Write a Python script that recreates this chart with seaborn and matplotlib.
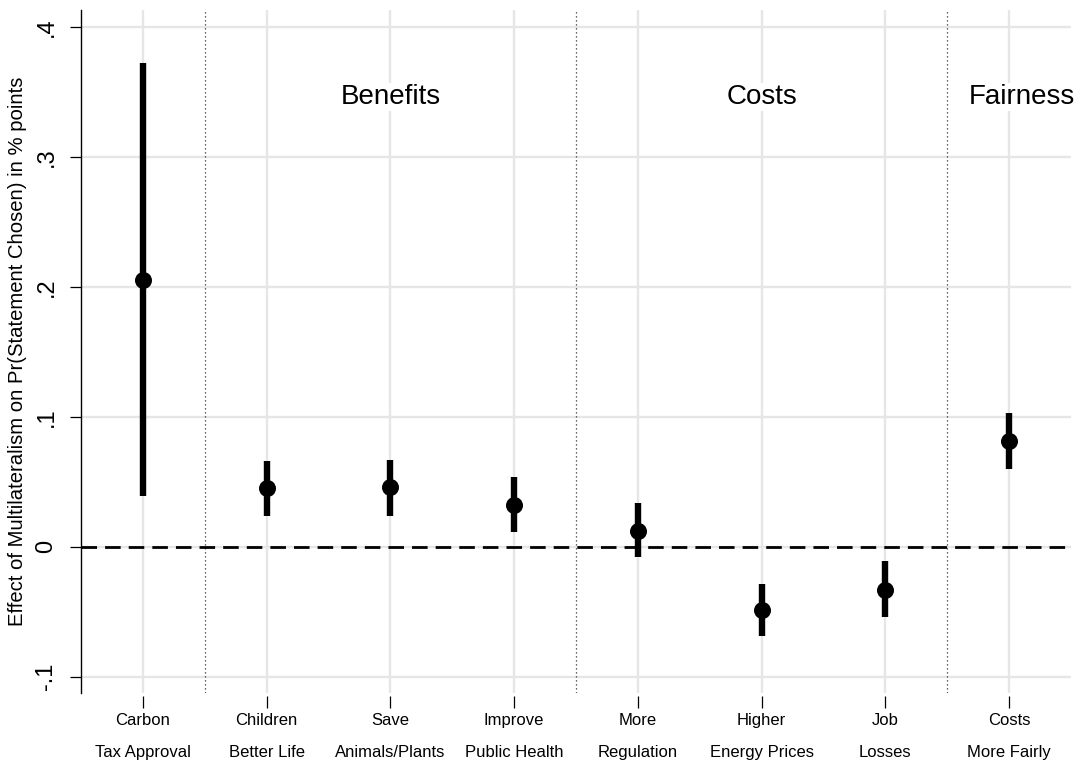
import numpy as np
import pandas as pd
import matplotlib
matplotlib.use("Agg")
import matplotlib.pyplot as plt
import seaborn as sns

# ---- data ----
labels = ["Carbon\nTax Approval", "Children\nBetter Life", "Save\nAnimals/Plants",
          "Improve\nPublic Health", "More\nRegulation", "Higher\nEnergy Prices",
          "Job\nLosses", "Costs\nMore Fairly"]
estimate = [0.205, 0.045, 0.046, 0.032, 0.012, -0.049, -0.033, 0.081]
ci_low = [0.039, 0.024, 0.024, 0.011, -0.008, -0.069, -0.054, 0.060]
ci_high = [0.372, 0.066, 0.067, 0.054, 0.034, -0.029, -0.011, 0.103]
groups = ["Benefits", "Costs", "Fairness"]
group_pos = [2, 5, 7.1]
separators = [0.5, 3.5, 6.5]
ytick_vals = [-0.1, 0, 0.1, 0.2, 0.3, 0.4]
ytick_text = ["-.1", "0", ".1", ".2", ".3", ".4"]

df = pd.DataFrame({"label": labels, "est": estimate, "lo": ci_low, "hi": ci_high})

sns.set_theme(style="white")
plt.rcParams['font.family'] = ['Liberation Sans', 'DejaVu Sans']
plt.rcParams['text.color'] = 'black'
plt.rcParams['axes.labelcolor'] = 'black'
plt.rcParams['xtick.color'] = 'black'
plt.rcParams['ytick.color'] = 'black'

fig = plt.figure(figsize=(10.8, 7.64), dpi=100)
ax = fig.add_axes([0.075, 0.093, 0.9167, 0.894])

# grid
for v in ytick_vals:
    ax.axhline(v, color="#e6e6e6", lw=1.7, zorder=0)
for i in range(len(labels)):
    ax.axvline(i, color="#e6e6e6", lw=1.7, zorder=0)

# group separators
for s in separators:
    ax.axvline(s, color="#333333", lw=0.9, ls=(0, (1, 2.2)), zorder=1)

# zero line
ax.axhline(0, color="black", lw=2.0, ls=(0, (5.6, 2.9)), zorder=2)

# intervals + estimates
ax.vlines(df["label"], df["lo"], df["hi"], color="black", lw=4.6, zorder=3)
sns.scatterplot(data=df, x="label", y="est", color="black", s=150,
                edgecolor="black", linewidth=0, zorder=4, ax=ax)

for g, p in zip(groups, group_pos):
    ax.text(p, 0.346, g, ha="center", va="center", fontsize=20,
            bbox=dict(facecolor="white", edgecolor="none", pad=1), zorder=2)

ax.set_xlim(-0.5, 7.5)
ax.set_ylim(-0.1125, 0.413)
ax.set_yticks(ytick_vals)
ax.set_yticklabels(ytick_text, rotation=90, va="center", fontsize=17)
ax.set_xticks(range(len(labels)))
ax.set_xticklabels(labels)
ax.set_xlabel("")
ax.set_ylabel("Effect of Multilateralism on Pr(Statement Chosen) in % points",
              fontsize=14.6, labelpad=6)

for sp in ["top", "right", "bottom"]:
    ax.spines[sp].set_visible(False)
ax.spines["left"].set_color("black")
ax.spines["left"].set_linewidth(1.0)
ax.spines["bottom"].set_position(("outward", 2))
ax.tick_params(axis="x", bottom=True, length=8.5, width=0.9, color="black",
               pad=4, labelsize=12)
ax.tick_params(axis="y", left=True, length=8, width=0.9, color="black", pad=9)

# tick objects are created at draw time, so set line spacing afterwards
fig.canvas.draw()
for t in ax.get_xticklabels():
    t.set_linespacing(2.4)

fig.savefig("out.png", dpi=100)
